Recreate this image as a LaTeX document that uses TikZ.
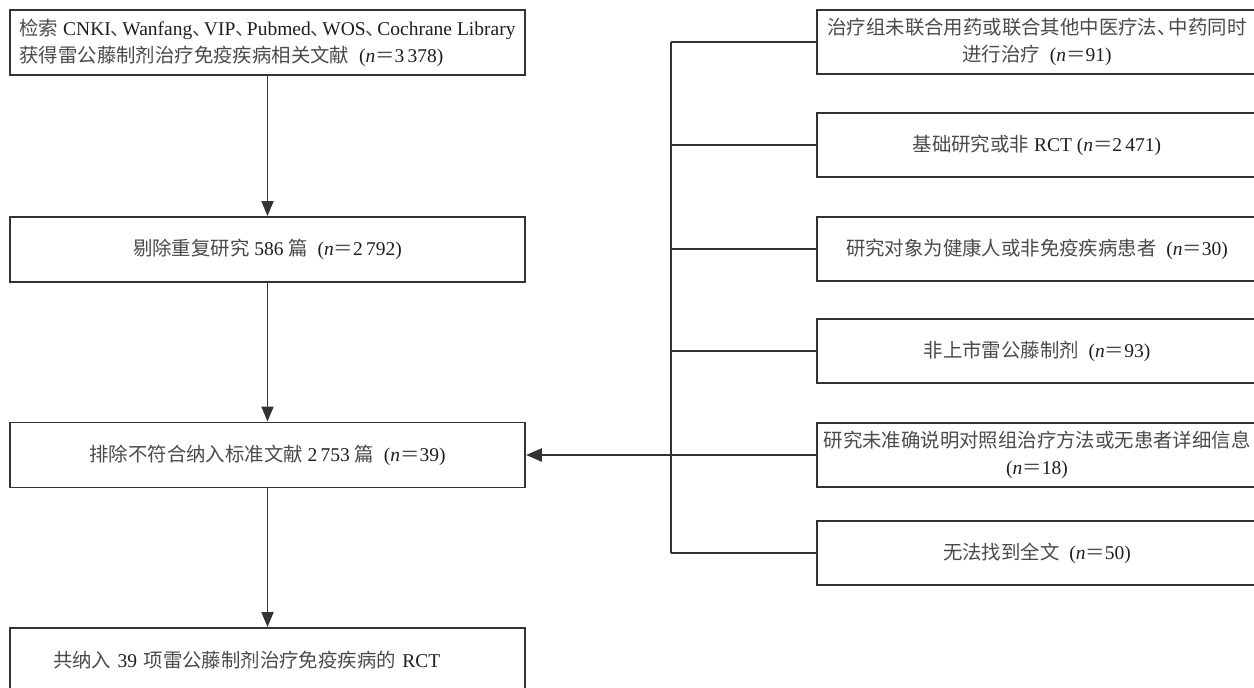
\documentclass[tikz,border=0pt]{standalone}
\usepackage{fontspec}
\setmainfont{Liberation Serif}
\newfontfamily\cjk{Noto Sans CJK SC}
\usetikzlibrary{arrows.meta}
\definecolor{zhgray}{HTML}{4A4A4A}
\definecolor{linegray}{HTML}{333333}
\definecolor{txt}{HTML}{1E1E1E}
\newcommand{\zh}[1]{{\cjk\fontsize{19.4}{27}\selectfont\color{zhgray}#1}}
\newcommand{\dun}{\zh{、}\hspace{-0.4em}}
\newcommand{\nn}[1]{(\textit{n}\zh{＝}#1)}
\begin{document}
\begin{tikzpicture}[x=1pt,y=-1pt,
  box/.style={draw=linegray, line width=1.9pt, rectangle, inner ysep=0pt,
    font=\fontsize{19.5}{27}\selectfont, text=txt},
  lbox/.style={box, minimum width=515pt, minimum height=65pt},
  rbox/.style={box, minimum width=440pt, minimum height=64pt, inner xsep=2pt, align=center},
  conn/.style={draw=linegray, line width=1.8pt},
  arr/.style={conn, -{Triangle[length=15pt,width=12pt]}}]
\useasboundingbox (0,0) rectangle (1254,688);
\clip (0,0) rectangle (1254,688);

% left column
\node[lbox, align=left] (b1) at (267.5,42.5)
  {\zh{检索} CNKI\dun Wanfang\dun VIP\dun Pubmed\dun WOS\dun Cochrane Library\\
   \zh{获得雷公藤制剂治疗免疫疾病相关文献}\hspace{0.5em}\nn{3\,378}};
\node[lbox, align=center] (b2) at (267.5,249.5)
  {\zh{剔除重复研究} 586 \zh{篇}\hspace{0.5em}\nn{2\,792}};
\node[lbox, align=center] (b3) at (267.5,455)
  {\zh{排除不符合纳入标准文献} 2\,753 \zh{篇}\hspace{0.5em}\nn{39}};
\node[lbox, inner xsep=43pt, text width=429pt, align=left] (b4) at (267.5,660.5)
  {\zh{共纳入} 39 \zh{项雷公藤制剂治疗免疫疾病的} RCT};

% right column
\node[rbox] (e1) at (1037,42)
  {\zh{治疗组未联合用药或联合其他中医疗法}\dun\zh{中药同时}\\ \zh{进行治疗}\hspace{0.5em}\nn{91}};
\node[rbox] (e2) at (1037,145)
  {\zh{基础研究或非} RCT \nn{2\,471}};
\node[rbox] (e3) at (1037,249)
  {\zh{研究对象为健康人或非免疫疾病患者}\hspace{0.5em}\nn{30}};
\node[rbox] (e4) at (1037,351)
  {\zh{非上市雷公藤制剂}\hspace{0.5em}\nn{93}};
\node[rbox] (e5) at (1037,455)
  {\zh{研究未准确说明对照组治疗方法或无患者详细信息}\\ \nn{18}};
\node[rbox] (e6) at (1037,553)
  {\zh{无法找到全文}\hspace{0.5em}\nn{50}};

% vertical flow
\draw[arr] (b1.south) -- (b2.north);
\draw[arr] (b2.south) -- (b3.north);
\draw[arr] (b3.south) -- (b4.north);

% bracket
\coordinate (jt) at (671,42);
\coordinate (jb) at (671,553);
\draw[conn] (jt) -- (jb);
\foreach \e in {e1,e2,e3,e4,e5,e6}{
  \draw[conn] (\e.west) -- (\e.west -| jt);
}
\draw[conn, line width=2.6pt, -{Triangle[length=16pt,width=13pt]}] (e5.west -| jt) -- (b3.east);
\end{tikzpicture}
\end{document}
